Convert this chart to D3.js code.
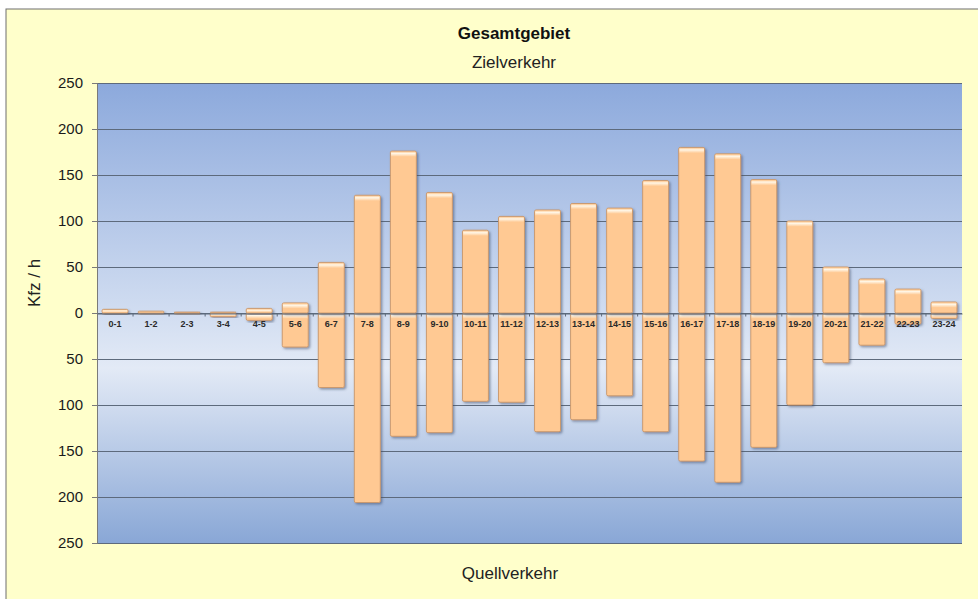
<!DOCTYPE html>
<html>
<head>
<meta charset="utf-8">
<script src="https://cdn.jsdelivr.net/npm/d3@7"></script>
<style>
  body { margin: 0; background: #fff; }
  text { font-family: "Liberation Sans", Arial, sans-serif; }
</style>
</head>
<body>
<script>
const WIDTH = 978;
const HEIGHT = 599;
const MARGIN = {top: 83, right: 16, bottom: 56, left: 97};

// hourly intervals
const HOURS = ["0-1", "1-2", "2-3", "3-4", "4-5", "5-6", "6-7", "7-8", "8-9", "9-10", "10-11", "11-12",
               "12-13", "13-14", "14-15", "15-16", "16-17", "17-18", "18-19", "19-20", "20-21", "21-22", "22-23", "23-24"];
// Zielverkehr (up) and Quellverkehr (down), Kfz / h
const ZIEL = [4, 2, 1, 1, 5, 11, 55, 128, 176, 131, 90, 105, 112, 119, 114, 144, 180, 173, 145, 100, 50, 37, 26, 12];
const QUELL = [1, 1, 1, 4, 8, 37, 81, 206, 134, 130, 96, 97, 129, 116, 90, 129, 161, 184, 146, 100, 54, 35, 12, 6];
const Y_TICKS = [-250, -200, -150, -100, -50, 0, 50, 100, 150, 200, 250];

const svg = d3.select("body")
              .append("svg")
              .attr("width", WIDTH)
              .attr("height", HEIGHT);

const defs = svg.append("defs");

// plot background gradient
const bg = defs.append("linearGradient")
               .attr("id", "plotBg")
               .attr("x1", 0).attr("y1", 0).attr("x2", 0).attr("y2", 1);
[[0, "#8ca9dc"], [0.5, "#d1ddf1"], [0.62, "#e3eaf6"], [1, "#89a7d6"]].forEach(s =>
  bg.append("stop").attr("offset", s[0]).attr("stop-color", s[1]));

// bevel at the bar top
const bevel = defs.append("linearGradient")
                  .attr("id", "bevel")
                  .attr("x1", 0).attr("y1", 0).attr("x2", 0).attr("y2", 1);
[[0, "#ffcf9c"], [0.35, "#fff6e6"], [1, "#ffc993"]].forEach(s =>
  bevel.append("stop").attr("offset", s[0]).attr("stop-color", s[1]));

const shadow = defs.append("filter")
                   .attr("id", "shadow")
                   .attr("x", "-20%").attr("y", "-20%")
                   .attr("width", "150%").attr("height", "150%");
shadow.append("feDropShadow")
      .attr("dx", 1.5).attr("dy", 1.5)
      .attr("stdDeviation", 1.3)
      .attr("flood-color", "#3e4e66")
      .attr("flood-opacity", 0.55);

// outer frame
svg.append("rect")
   .attr("x", 6).attr("y", 9)
   .attr("width", WIDTH)
   .attr("height", HEIGHT)
   .attr("fill", "#ffffcb")
   .attr("stroke", "#6e6e6e");

//the scales
const xScale = d3.scaleBand()
                 .domain(HOURS)
                 .range([MARGIN.left, WIDTH - MARGIN.right])
                 .paddingInner(0.28)
                 .paddingOuter(0.14);

const yScale = d3.scaleLinear()
                 .domain([-250, 250])
                 .range([HEIGHT - MARGIN.bottom, MARGIN.top]);

// plot area
svg.append("rect")
   .attr("x", MARGIN.left)
   .attr("y", yScale(250))
   .attr("width", WIDTH - MARGIN.right - MARGIN.left)
   .attr("height", yScale(-250) - yScale(250))
   .attr("fill", "url(#plotBg)");

// gridlines
svg.append("g")
   .selectAll("line")
   .data(Y_TICKS)
   .enter()
   .append("line")
   .attr("x1", MARGIN.left)
   .attr("x2", WIDTH - MARGIN.right)
   .attr("y1", d => Math.round(yScale(d)) + 0.5)
   .attr("y2", d => Math.round(yScale(d)) + 0.5)
   .attr("stroke", "#5d6a7c")
   .attr("stroke-width", 1);

// y axis
const yAxis = d3.axisLeft(yScale)
                .tickValues(Y_TICKS)
                .tickSize(5)
                .tickPadding(9)
                .tickFormat(d => Math.abs(d));

const yG = svg.append("g")
              .attr("transform", "translate(" + MARGIN.left + ",0)")
              .call(yAxis);
yG.select(".domain").attr("stroke", "#7a7a7a");
yG.selectAll(".tick line").attr("stroke", "#7a7a7a");
yG.selectAll(".tick text")
  .attr("font-size", 15)
  .attr("font-family", "Liberation Sans, Arial, sans-serif")
  .attr("fill", "#1a1a1a");

// bars
const drawBars = (values, up, cls) => {
  const g = svg.append("g").attr("class", cls);
  const bars = g.selectAll("g")
                .data(values.map((v, i) => ({hour: HOURS[i], value: v})))
                .enter()
                .append("g");

  bars.append("rect")
      .attr("x", d => xScale(d.hour))
      .attr("y", d => up ? yScale(d.value) : yScale(0))
      .attr("width", xScale.bandwidth())
      .attr("height", d => Math.abs(yScale(d.value) - yScale(0)))
      .attr("rx", 1.5)
      .attr("fill", "#ffc993")
      .attr("stroke", "#c8966a")
      .attr("stroke-width", 0.9)
      .attr("filter", "url(#shadow)");

  bars.append("rect")
      .attr("x", d => xScale(d.hour) + 0.7)
      .attr("y", d => (up ? yScale(d.value) : yScale(0)) + 0.7)
      .attr("width", xScale.bandwidth() - 1.4)
      .attr("height", d => Math.max(0, Math.min(5, Math.abs(yScale(d.value) - yScale(0)) - 1.4)))
      .attr("fill", "url(#bevel)");
};

drawBars(QUELL, false, "quell");
drawBars(ZIEL, true, "ziel");

// zero line with category labels
const xAxis = d3.axisBottom(xScale)
                .tickSize(0)
                .tickPadding(7);

const xG = svg.append("g")
              .attr("transform", "translate(0," + (Math.round(yScale(0)) + 0.5) + ")")
              .call(xAxis);
xG.select(".domain").attr("stroke", "#5d6a7c");
xG.selectAll(".tick text")
  .attr("font-size", 9)
  .attr("font-weight", "bold")
  .attr("font-family", "Liberation Sans, Arial, sans-serif")
  .attr("fill", "#2a2a2a");

// small ticks between categories
xG.selectAll(".sep")
  .data(HOURS.slice(1))
  .enter()
  .append("line")
  .attr("x1", d => xScale(d) - xScale.step() * xScale.paddingInner() / 2)
  .attr("x2", d => xScale(d) - xScale.step() * xScale.paddingInner() / 2)
  .attr("y1", 0)
  .attr("y2", 3)
  .attr("stroke", "#5d6a7c");

// titles
svg.append("text")
   .attr("x", 514).attr("y", 39)
   .attr("text-anchor", "middle")
   .attr("font-size", 17)
   .attr("font-weight", "bold")
   .attr("fill", "#111")
   .text("Gesamtgebiet");

svg.append("text")
   .attr("x", 514).attr("y", 68)
   .attr("text-anchor", "middle")
   .attr("font-size", 17)
   .attr("fill", "#222")
   .text("Zielverkehr");

svg.append("text")
   .attr("x", 510).attr("y", 579)
   .attr("text-anchor", "middle")
   .attr("font-size", 17)
   .attr("fill", "#222")
   .text("Quellverkehr");

svg.append("text")
   .attr("transform", "translate(40," + (yScale(0) - 30) + ") rotate(-90)")
   .attr("text-anchor", "middle")
   .attr("font-size", 17)
   .attr("fill", "#222")
   .text("Kfz / h");
</script>
</body>
</html>
